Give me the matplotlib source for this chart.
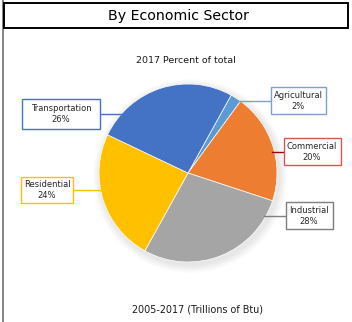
import numpy as np
import matplotlib.pyplot as plt
from matplotlib.patches import Rectangle, Circle

# data (clockwise from the top right)
sectores = ['Agricultural', 'Commercial', 'Industrial', 'Residential', 'Transportation']
porcentaje = [2, 20, 28, 24, 26]
colores = ['#5B9BD5', '#ED7D31', '#A5A5A5', '#FFC000', '#4472C4']

# label boxes in pixels (centre x, centre y from top, width, height), border colour, line colour
cajas = {
    'Agricultural': (298.5, 100.7, 55, 27, '#7F9FD0', '#7F9FD0'),
    'Commercial': (312, 151.7, 57, 27, '#D9534F', '#A00000'),
    'Industrial': (309, 215.7, 47, 27, '#7F7F7F', '#7F7F7F'),
    'Residential': (47, 190, 52, 26, '#FFC000', '#FFC000'),
    'Transportation': (61, 114, 78, 30, '#4472C4', '#4472C4'),
}

W, H = 352, 322
fig = plt.figure(figsize=(W / 100, H / 100), dpi=100)
ax = fig.add_axes([0, 0, 1, 1])

cx, cy, r = 188, H - 173, 89

# soft shadow under the pie
for i in range(8):
    ax.add_patch(Circle((cx + 2, cy - 3), r + 8 - i, color='black', alpha=0.012, lw=0, zorder=0))

ax.pie(porcentaje, colors=colores, center=(cx, cy), radius=r, startangle=61,
       counterclock=False, wedgeprops=dict(linewidth=0.5, edgecolor='white'))

# labels with leader lines
for nombre, val in zip(sectores, porcentaje):
    bx, by, bw, bh, borde, linea = cajas[nombre]
    y = H - by
    dy = y - cy
    dx = np.sqrt(r ** 2 - dy ** 2)
    if bx > cx:
        ax.plot([cx + dx - 2, bx - bw / 2], [y, y], color=linea, lw=1, zorder=3)
    else:
        ax.plot([bx + bw / 2, cx - dx + 2], [y, y], color=linea, lw=1, zorder=3)
    ax.add_patch(Rectangle((bx - bw / 2, y - bh / 2), bw, bh, facecolor='white',
                           edgecolor=borde, lw=1, zorder=4))
    ax.text(bx, y, f'{nombre}\n{val}%', ha='center', va='center', fontsize=6,
            color='#262626', linespacing=1.25, zorder=5)

# title box and frame
ax.add_patch(Rectangle((4, H - 28), 344, 25, facecolor='white', edgecolor='black', lw=1.4, zorder=4))
ax.text(179, H - 16, 'By Economic Sector', ha='center', va='center', fontsize=10.2, color='black', zorder=5)
ax.plot([3, 3], [0, H], color='#707070', lw=1.2)

ax.text(186, H - 60, '2017 Percent of total', ha='center', va='center', fontsize=6.8, color='#1a1a1a')
ax.text(198, H - 309, '2005-2017 (Trillions of Btu)', ha='center', va='center', fontsize=6.9, color='#1a1a1a')

ax.set_xlim(0, W)
ax.set_ylim(0, H)
ax.set_aspect('equal')
ax.axis('off')
fig.savefig('out.png', dpi=100)
